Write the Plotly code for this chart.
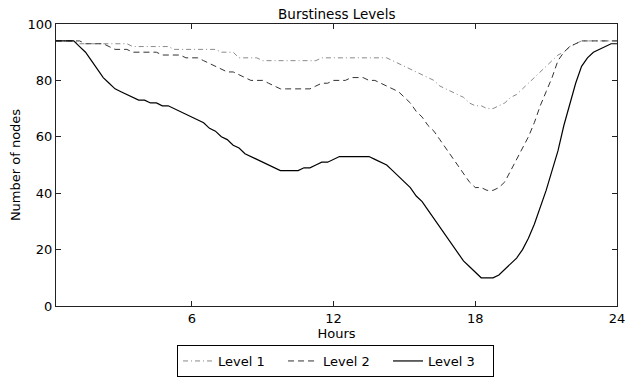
import numpy as np
import plotly.graph_objects as go

# Hours (quarter-hour slots)
hours = [0.25 * (i + 1) for i in range(96)]

level1 = [
    94, 94, 94, 94,   # 0.25-1.0
    93, 93, 93, 93,   # 1.25-2.0
    93, 93, 93, 93,   # 2.25-3.0
    93, 92, 92, 92,   # 3.25-4.0
    92, 92, 92, 92,   # 4.25-5.0
    91, 91, 91, 91,   # 5.25-6.0
    91, 91, 91, 91,   # 6.25-7.0
    90, 90, 90, 88,   # 7.25-8.0
    88, 88, 88, 87,   # 8.25-9.0
    87, 87, 87, 87,   # 9.25-10.0
    87, 87, 87, 87,   # 10.25-11.0
    87, 88, 88, 88,   # 11.25-12.0
    88, 88, 88, 88,   # 12.25-13.0
    88, 88, 88, 88,   # 13.25-14.0
    88, 87, 86, 85,   # 14.25-15.0
    84, 83, 82, 81,   # 15.25-16.0
    80, 78, 77, 76,   # 16.25-17.0
    75, 74, 72, 71,   # 17.25-18.0
    71, 70, 70, 71,   # 18.25-19.0
    72, 74, 75, 77,   # 19.25-20.0
    79, 81, 83, 85,   # 20.25-21.0
    87, 89, 90, 92,   # 21.25-22.0
    93, 94, 94, 94,   # 22.25-23.0
    94, 94, 94, 94,   # 23.25-24.0
]

level2 = [
    94, 94, 94, 94,
    94, 93, 93, 93,
    93, 92, 91, 91,
    91, 90, 90, 90,
    90, 90, 89, 89,
    89, 89, 88, 88,
    88, 87, 86, 85,
    84, 83, 83, 82,
    81, 80, 80, 80,
    79, 78, 77, 77,
    77, 77, 77, 77,
    78, 79, 79, 80,
    80, 80, 81, 81,
    81, 80, 80, 79,
    78, 77, 76, 74,
    72, 69, 67, 64,
    62, 59, 56, 53,
    50, 47, 44, 42,
    42, 41, 41, 42,
    44, 48, 52, 56,
    60, 65, 71, 76,
    81, 87, 90, 92,
    93, 94, 94, 94,
    94, 94, 94, 94,
]

level3 = [
    94, 94, 94, 94,
    92, 90, 87, 84,
    81, 79, 77, 76,
    75, 74, 73, 73,
    72, 72, 71, 71,
    70, 69, 68, 67,
    66, 65, 63, 62,
    60, 59, 57, 56,
    54, 53, 52, 51,
    50, 49, 48, 48,
    48, 48, 49, 49,
    50, 51, 51, 52,
    53, 53, 53, 53,
    53, 53, 52, 51,
    50, 48, 46, 44,
    42, 39, 37, 34,
    31, 28, 25, 22,
    19, 16, 14, 12,
    10, 10, 10, 11,
    13, 15, 17, 20,
    24, 29, 35, 41,
    48, 55, 64, 72,
    79, 85, 88, 90,
    91, 92, 93, 93,
]

series_names = ["Level 1", "Level 2", "Level 3"]
x_ticks = [6, 12, 18, 24]
y_ticks = [0, 20, 40, 60, 80, 100]

font_family = "DejaVu Sans"
fs = 13

fig = go.Figure()
fig.add_trace(go.Scatter(x=hours, y=level1, name=series_names[0], mode="lines",
                         line=dict(color="#8a8a8a", width=1, dash="5px,3px,1px,3px")))
fig.add_trace(go.Scatter(x=hours, y=level2, name=series_names[1], mode="lines",
                         line=dict(color="#333333", width=1, dash="6px,4px")))
fig.add_trace(go.Scatter(x=hours, y=level3, name=series_names[2], mode="lines",
                         line=dict(color="#000000", width=1.2)))

axis_common = dict(
    showline=True, linecolor="#222222", linewidth=1.2, mirror="allticks",
    ticks="inside", ticklen=5, tickcolor="#222222", tickwidth=1,
    showgrid=False, zeroline=False, automargin=False,
    tickfont=dict(family=font_family, size=fs, color="#000000"),
)

fig.update_layout(
    width=626, height=379,
    margin=dict(l=56, r=9, t=24, b=73, autoexpand=False),
    paper_bgcolor="white", plot_bgcolor="white",
    font=dict(family=font_family, size=fs, color="#000000"),
    title=dict(text="Burstiness Levels", x=0.538, xanchor="center", y=1 - 14 / 379, yanchor="middle",
               font=dict(family=font_family, size=13.5)),
    xaxis=dict(range=[0.25, 24], tickvals=x_ticks, ticktext=[str(t) for t in x_ticks],
               title=dict(text="Hours", standoff=4, font=dict(size=fs)), **axis_common),
    yaxis=dict(range=[0, 100], tickvals=y_ticks, ticktext=[str(t) for t in y_ticks],
               title=dict(text="Number of nodes", standoff=3, font=dict(size=fs)), **axis_common),
    legend=dict(orientation="h", xref="container", yref="container",
                x=0.536, xanchor="center", y=1 - 345 / 379, yanchor="top",
                bordercolor="#000000", borderwidth=1, bgcolor="white",
                font=dict(family=font_family, size=fs),
                itemwidth=30, entrywidth=60, tracegroupgap=0),
    showlegend=True,
)

fig.write_html("out.html")
